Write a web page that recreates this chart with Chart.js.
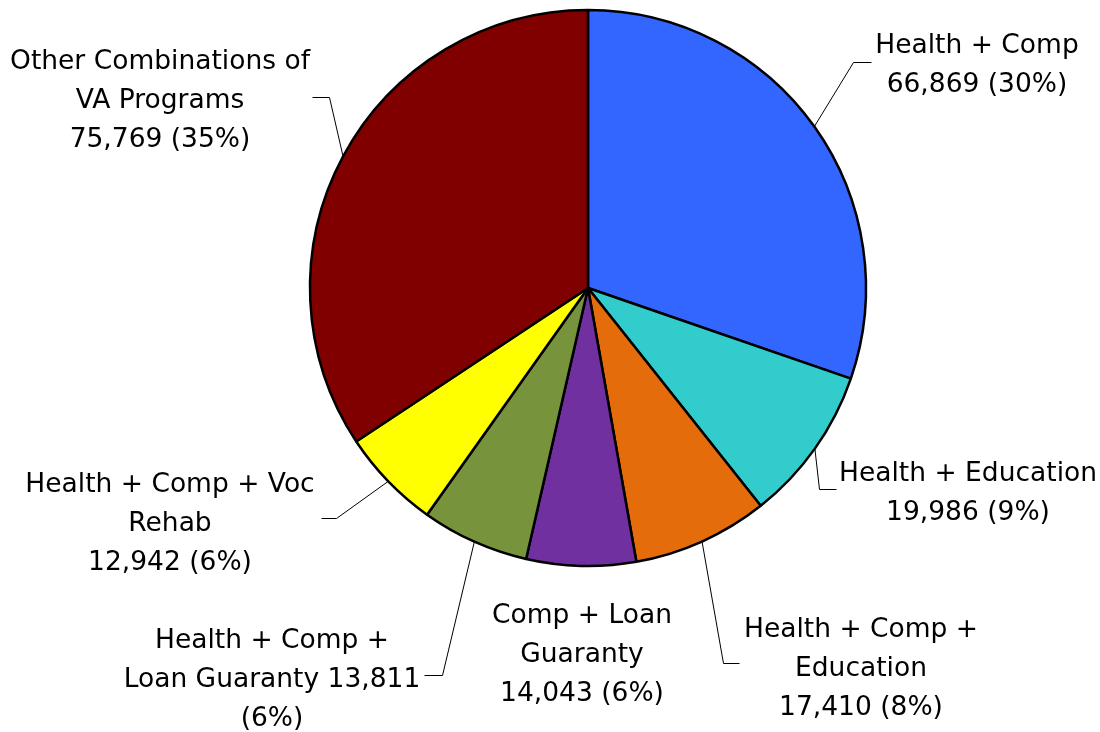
<!DOCTYPE html>
<html>
<head>
<meta charset="utf-8">
<script src="https://cdn.jsdelivr.net/npm/chart.js@4.4.1/dist/chart.umd.min.js"></script>
<style>
  html, body { margin: 0; padding: 0; background: #fff; }
  #wrap { width: 1100px; height: 732px; }
</style>
</head>
<body>
<div id="wrap"><canvas id="chartPie"></canvas></div>
<script>
// ---- data ----
const categories = [
    'Health + Comp',
    'Health + Education',
    'Health + Comp + Education',
    'Comp + Loan Guaranty',
    'Health + Comp + Loan Guaranty',
    'Health + Comp + Voc Rehab',
    'Other Combinations of VA Programs'
];
const values = [66869, 19986, 17410, 14043, 13811, 12942, 75769];
const percents = ['30%', '9%', '8%', '6%', '6%', '6%', '35%'];
const colors = ['#3366FF', '#33CCCC', '#E46C0A', '#7030A0', '#77933C', '#FFFF00', '#800000'];

// label text, split the way the original wraps it ({v} = value, {p} = percent)
const labelLines = [
    ['Health + Comp', '{v} ({p})'],
    ['Health + Education', '{v} ({p})'],
    ['Health + Comp +', 'Education', '{v} ({p})'],
    ['Comp + Loan', 'Guaranty', '{v} ({p})'],
    ['Health + Comp +', 'Loan Guaranty {v}', '({p})'],
    ['Health + Comp + Voc', 'Rehab', '{v} ({p})'],
    ['Other Combinations of', 'VA Programs', '{v} ({p})']
];

// ---- label placement (center x, first baseline, leader elbow / end) ----
const labelPos = [
    { x: 977, y: 53,  elbow: [853, 62],  end: [871, 62] },
    { x: 968, y: 481, elbow: [819, 489], end: [836, 489] },
    { x: 861, y: 637, elbow: [723, 663], end: [739, 663] },
    { x: 582, y: 623, elbow: null,       end: null },
    { x: 272, y: 648, elbow: [442, 675], end: [424, 675] },
    { x: 170, y: 492, elbow: [336, 518], end: [321, 518] },
    { x: 160, y: 69,  elbow: [329, 97],  end: [312, 97] }
];
const LINE_HEIGHT = 39;
const FONT = '26.5px "DejaVu Sans", Verdana, sans-serif';

// leader lines + labels
const pieLabels = {
    id: 'pieLabels',
    afterDraw(chart) {
        const ctx = chart.ctx;
        const arcs = chart.getDatasetMeta(0).data;
        ctx.save();
        ctx.strokeStyle = '#000';
        ctx.lineWidth = 1;
        arcs.forEach((arc, i) => {
            const p = labelPos[i];
            if (!p.elbow) return;
            const a = (arc.startAngle + arc.endAngle) / 2;
            const sx = arc.x + Math.cos(a) * arc.outerRadius;
            const sy = arc.y + Math.sin(a) * arc.outerRadius;
            ctx.beginPath();
            ctx.moveTo(sx, sy);
            ctx.lineTo(p.elbow[0] + 0.5, p.elbow[1] + 0.5);
            ctx.lineTo(p.end[0] + 0.5, p.end[1] + 0.5);
            ctx.stroke();
        });

        ctx.fillStyle = '#000';
        ctx.font = FONT;
        ctx.textAlign = 'center';
        ctx.textBaseline = 'alphabetic';
        labelLines.forEach((lines, i) => {
            const v = values[i].toLocaleString('en-US');
            lines.forEach((ln, k) => {
                const txt = ln.replace('{v}', v).replace('{p}', percents[i]);
                ctx.fillText(txt, labelPos[i].x, labelPos[i].y + k * LINE_HEIGHT);
            });
        });
        ctx.restore();
    }
};

new Chart(document.getElementById('chartPie'), {
    type: 'pie',
    data: {
        labels: categories,
        datasets: [{
            data: values,
            backgroundColor: colors,
            borderColor: '#000',
            borderWidth: 2.5
        }]
    },
    options: {
        responsive: true,
        maintainAspectRatio: false,
        animation: false,
        radius: 278,
        layout: {
            padding: { left: 300, right: 224, top: 0, bottom: 156 }
        },
        plugins: {
            legend: { display: false },
            tooltip: { enabled: false }
        }
    },
    plugins: [pieLabels]
});
</script>
</body>
</html>
